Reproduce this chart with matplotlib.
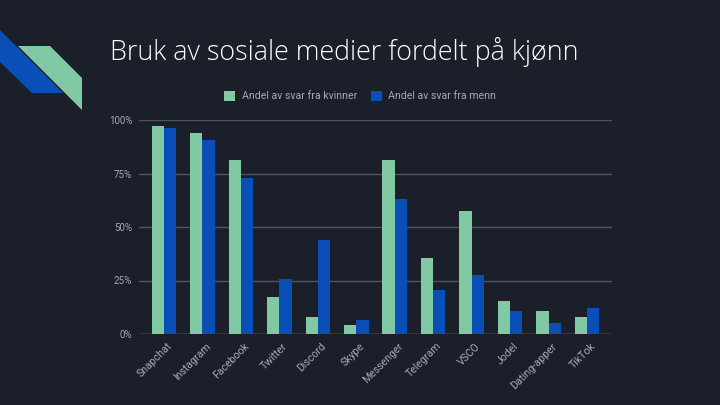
import matplotlib
matplotlib.use("Agg")
import matplotlib.pyplot as plt
from matplotlib.patches import Polygon
import numpy as np

categories = ["Snapchat", "Instagram", "Facebook", "Twitter", "Discord", "Skype",
              "Messenger", "Telegram", "VSCO", "Jodel", "Dating-apper", "TikTok"]
kvinner = [97.2, 94.1, 81.3, 17.1, 7.8, 4.4, 81.3, 35.6, 57.5, 15.4, 10.9, 7.8]
menn = [96.1, 90.7, 72.8, 25.8, 44.0, 6.7, 63.1, 20.5, 27.5, 10.9, 5.3, 12.0]
yticks = [0, 25, 50, 75, 100]
ytick_labels = ["0%", "25%", "50%", "75%", "100%"]
title = "Bruk av sosiale medier fordelt på kjønn"
legend_labels = ["Andel av svar fra kvinner", "Andel av svar fra menn"]

BG = "#1b1f2a"
GREEN = "#80c9a3"
BLUE = "#0a4fb8"
TXT = "#a4a8b0"

fig = plt.figure(figsize=(7.2, 4.05), dpi=100, facecolor=BG)

def px(pts):
    return [(x / 720, 1 - y / 405) for x, y in pts]

fig.patches.append(Polygon(px([(0, 30), (63, 93), (32, 93), (0, 62)]),
                           closed=True, transform=fig.transFigure, facecolor=BLUE, edgecolor="none"))
fig.patches.append(Polygon(px([(18, 46), (50, 46), (82, 78), (82, 110)]),
                           closed=True, transform=fig.transFigure, facecolor=GREEN, edgecolor="none"))

fig.text(110 / 720, 1 - 52 / 405, title, color="white", fontsize=19.4,
         family="Open Sans", fontweight="light", va="center", ha="left")

ax = fig.add_axes([139 / 720, 1 - 334 / 405, (612 - 139) / 720, (334 - 120) / 405])
ax.set_facecolor(BG)
x = np.arange(len(categories))
w = 0.32
ax.bar(x - w / 2, kvinner, width=w, color=GREEN, label=legend_labels[0], zorder=3)
ax.bar(x + w / 2, menn, width=w, color=BLUE, label=legend_labels[1], zorder=3)
ax.set_xlim(-0.65, len(categories) - 0.35)
ax.set_ylim(0, 100)
ax.set_yticks(yticks)
ax.set_yticklabels(ytick_labels)
for yv in yticks:
    ax.axhline(yv, color="#8a8e96" if yv == 0 else "#4f535c", lw=1, zorder=1)
for s in ax.spines.values():
    s.set_visible(False)
ax.tick_params(axis="y", length=0, colors=TXT, labelsize=7, pad=5)
ax.tick_params(axis="x", length=0, colors=TXT, labelsize=7.6, pad=5)
ax.set_xticks(x + 0.08)
ax.set_xticklabels(categories, rotation=45, ha="right", rotation_mode="anchor")
for lbl in ax.get_yticklabels() + ax.get_xticklabels():
    lbl.set_family("Roboto")

leg = fig.legend(loc="center", bbox_to_anchor=(360 / 720, 1 - 96 / 405), ncol=2,
                 frameon=False, handlelength=1.1, handleheight=1.1,
                 handletextpad=0.6, columnspacing=1.3, labelcolor=TXT,
                 prop={"family": "Roboto", "size": 7.6})

fig.savefig("out.png", dpi=100, facecolor=BG)
